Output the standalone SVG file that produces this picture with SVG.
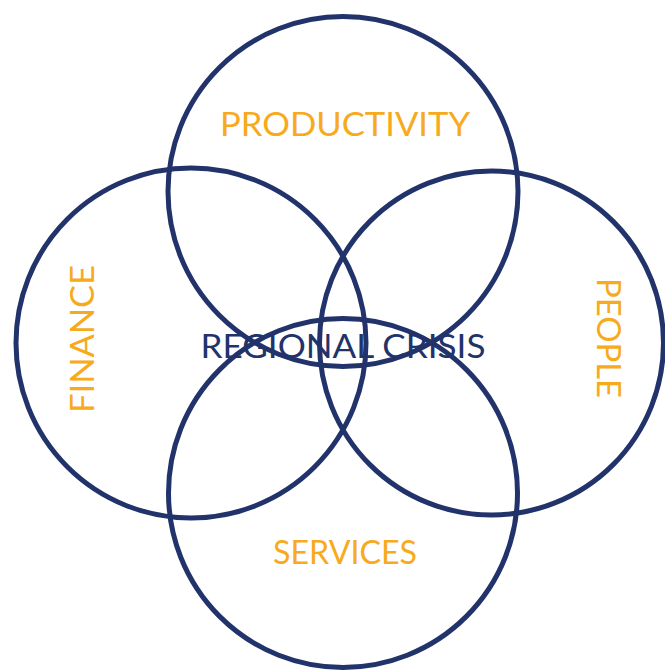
<svg xmlns="http://www.w3.org/2000/svg" width="665" height="671" viewBox="0 0 665 671">
<style>
.c{fill:none;stroke:#21336a;stroke-width:5}
.o{fill:#f7aa1c;font-family:Lato,"Open Sans",sans-serif;font-size:32px;text-anchor:middle}
.n{fill:#21336a;font-family:Lato,"Open Sans",sans-serif;font-size:32px;text-anchor:middle}
</style>
<rect width="665" height="671" fill="#fff"/>
<g id="connectors"></g>
<g id="productivity"><circle class="c" cx="343" cy="191.5" r="175"/><text class="o" x="345" y="136" textLength="250" lengthAdjust="spacingAndGlyphs">PRODUCTIVITY</text></g>
<g id="finance"><circle class="c" cx="191" cy="343" r="175"/><text class="o" transform="translate(94,339) rotate(-90)" textLength="148" lengthAdjust="spacingAndGlyphs">FINANCE</text></g>
<g id="people"><circle class="c" cx="491.5" cy="343" r="172"/><text class="o" transform="translate(597,338) rotate(90)" textLength="120" lengthAdjust="spacingAndGlyphs">PEOPLE</text></g>
<g id="services"><circle class="c" cx="343" cy="493" r="174.5"/><text class="o" x="345" y="564" textLength="144" lengthAdjust="spacingAndGlyphs">SERVICES</text></g>
<g id="regional-crisis"><text class="n" x="343" y="358" textLength="285" lengthAdjust="spacingAndGlyphs">REGIONAL CRISIS</text></g>
</svg>
